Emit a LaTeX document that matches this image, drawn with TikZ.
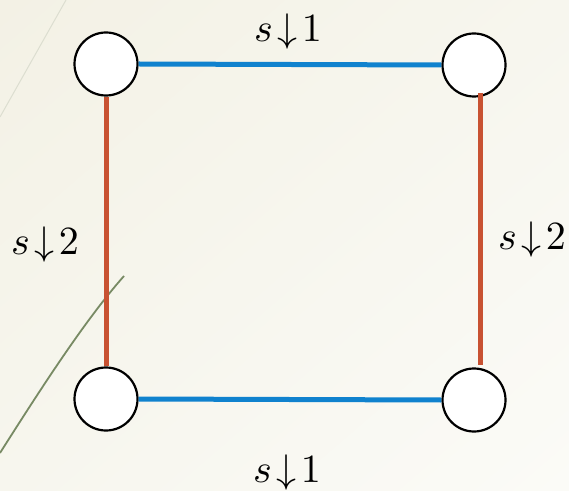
\documentclass[tikz,border=0pt]{standalone}
\usepackage{graphicx}
\usepackage{amsmath}
\usetikzlibrary{shadings}
\newcommand{\lblsym}[1]{\scalebox{4.0}{$s\!\downarrow\!#1$}}
\begin{document}
\begin{tikzpicture}[x=1pt,y=1pt,
  vert/.style={circle,draw=black,line width=2.2pt,fill=white,minimum size=63pt,inner sep=0pt},
  bedge/.style={draw=edgeblue,line width=5pt},
  redge/.style={draw=edgered,line width=5pt},
  lbl/.style={inner sep=0pt,anchor=base}]
\definecolor{edgeblue}{RGB}{16,130,206}
\definecolor{edgered}{RGB}{200,82,50}
\definecolor{bgA}{RGB}{243,241,229}
\definecolor{bgB}{RGB}{251,251,247}
\definecolor{bgC}{RGB}{247,246,238}
\definecolor{deco}{RGB}{120,138,100}
\definecolor{decolight}{RGB}{220,222,208}
\useasboundingbox (0,0) rectangle (569,490);
\shade[upper left=bgA, upper right=bgC, lower left=bgC, lower right=bgB] (0,0) rectangle (569,490);
% decorative lines
\draw[decolight,line width=1pt] (0,373) -- (66,490);
\draw[deco,line width=1.8pt] (0,37) .. controls (40,100) and (85,170) .. (124,214);
% vertices
\node[vert] (tl) at (106,426) {};
\node[vert] (tr) at (474,425) {};
\node[vert] (bl) at (106,91) {};
\node[vert] (br) at (474,90) {};
% edges
\draw[bedge] (tl.east) -- (tr.west);
\draw[bedge] (bl.east) -- (br.west);
\coordinate (rt) at (480,397);
\coordinate (rb) at (480,125);
\draw[redge] (tl.south) -- (bl.north);
\draw[redge] (rt) -- (rb);
% labels
\node[lbl] (t1) at (288,448) {\lblsym{1}};
\node[lbl] (b1) at (287,8) {\lblsym{1}};
\node[lbl] (l2) at (45,235) {\lblsym{2}};
\node[lbl] (r2) at (532,240) {\lblsym{2}};
\end{tikzpicture}
\end{document}
